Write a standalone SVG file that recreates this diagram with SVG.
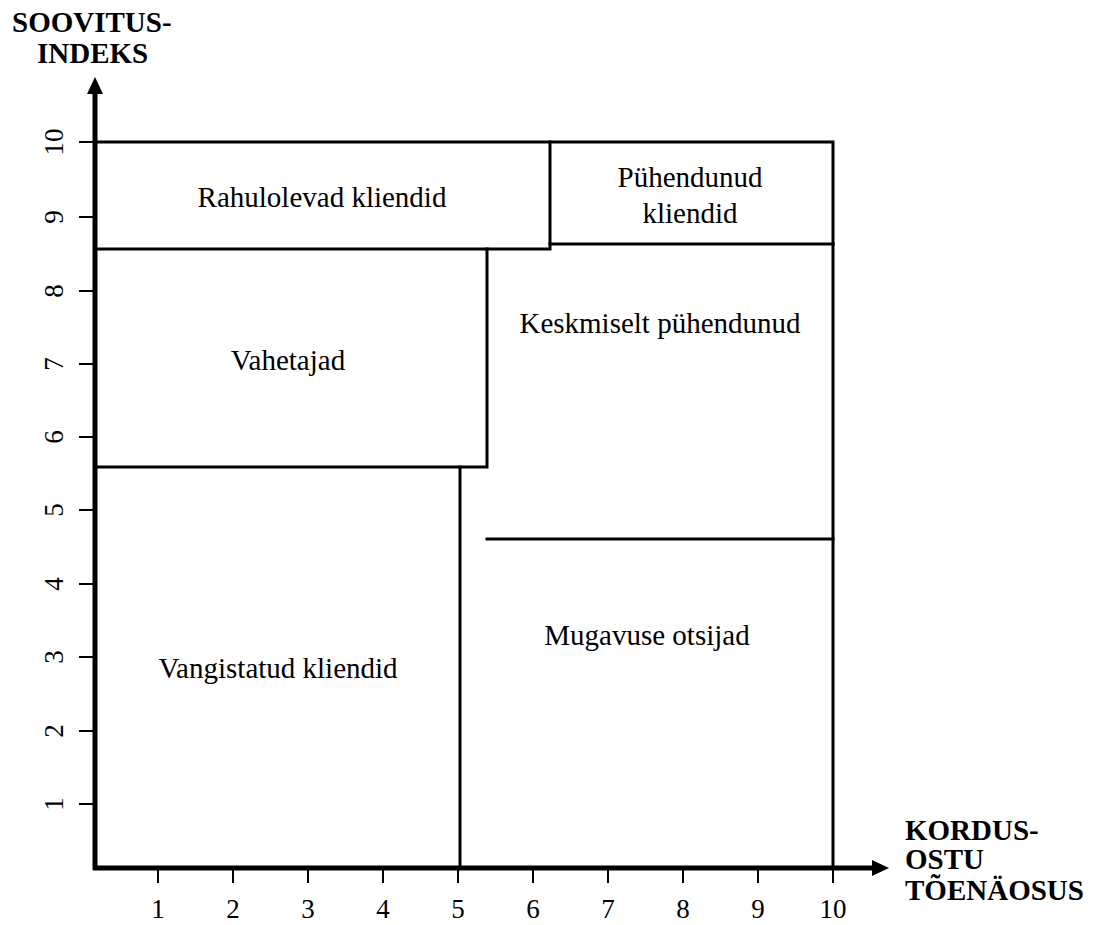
<svg xmlns="http://www.w3.org/2000/svg" width="1096" height="925" viewBox="0 0 1096 925">
  <style>
    .edge { fill: none; stroke: #000; stroke-width: 3; stroke-linecap: square; }
    .axis { stroke: #000; stroke-width: 5; fill: none; }
    .tick { stroke: #000; stroke-width: 2; }
    .lbl { font-family: "Liberation Serif", "Times New Roman", serif; font-size: 29px; fill: #000; text-anchor: middle; }
    .num { font-family: "Liberation Serif", "Times New Roman", serif; font-size: 27px; fill: #000; text-anchor: middle; }
    .head { font-family: "Liberation Serif", "Times New Roman", serif; font-size: 29px; font-weight: bold; fill: #000; }
  </style>
  <rect width="1096" height="925" fill="#fff"/>

  <!-- outer frame of the segment map -->
  <g id="frame">
    <path class="edge" d="M96,142 H833 V868"/>
  </g>

  <!-- segments -->
  <g id="rahulolevad">
    <path class="edge" d="M96,249 H550 V142"/>
    <text class="lbl" x="322" y="207">Rahulolevad kliendid</text>
  </g>
  <g id="puhendunud">
    <path class="edge" d="M550,244 H833"/>
    <text class="lbl" x="690" y="187">Pühendunud</text>
    <text class="lbl" x="690" y="223">kliendid</text>
  </g>
  <g id="vahetajad">
    <path class="edge" d="M96,467 H487 V249"/>
    <text class="lbl" x="288" y="370">Vahetajad</text>
  </g>
  <g id="keskmiselt">
    <path class="edge" d="M487,539 H833"/>
    <text class="lbl" x="660" y="333">Keskmiselt pühendunud</text>
  </g>
  <g id="vangistatud">
    <path class="edge" d="M460,467 V868"/>
    <text class="lbl" x="278" y="678">Vangistatud kliendid</text>
  </g>
  <g id="mugavuse">
    <text class="lbl" x="647" y="645">Mugavuse otsijad</text>
  </g>

  <!-- axes -->
  <g id="connectors">
    <line class="axis" x1="95" y1="870" x2="95" y2="90"/>
    <polygon points="95,77 87,94 103,94" fill="#000"/>
    <line class="axis" x1="93" y1="868" x2="874" y2="868"/>
    <polygon points="889,868 872,860 872,876" fill="#000"/>

    <!-- y ticks -->
    <g class="tick">
      <line x1="79" y1="804" x2="95" y2="804"/>
      <line x1="79" y1="731" x2="95" y2="731"/>
      <line x1="79" y1="657" x2="95" y2="657"/>
      <line x1="79" y1="584" x2="95" y2="584"/>
      <line x1="79" y1="510" x2="95" y2="510"/>
      <line x1="79" y1="437" x2="95" y2="437"/>
      <line x1="79" y1="364" x2="95" y2="364"/>
      <line x1="79" y1="291" x2="95" y2="291"/>
      <line x1="79" y1="217" x2="95" y2="217"/>
      <line x1="79" y1="142" x2="95" y2="142"/>
    </g>
    <!-- x ticks -->
    <g class="tick">
      <line x1="158" y1="868" x2="158" y2="883"/>
      <line x1="233" y1="868" x2="233" y2="883"/>
      <line x1="308" y1="868" x2="308" y2="883"/>
      <line x1="383" y1="868" x2="383" y2="883"/>
      <line x1="458" y1="868" x2="458" y2="883"/>
      <line x1="533" y1="868" x2="533" y2="883"/>
      <line x1="608" y1="868" x2="608" y2="883"/>
      <line x1="683" y1="868" x2="683" y2="883"/>
      <line x1="758" y1="868" x2="758" y2="883"/>
      <line x1="833" y1="868" x2="833" y2="883"/>
    </g>
  </g>

  <!-- y scale labels -->
  <g id="y-labels">
    <text class="num" transform="translate(63,804) rotate(-90)">1</text>
    <text class="num" transform="translate(63,731) rotate(-90)">2</text>
    <text class="num" transform="translate(63,657) rotate(-90)">3</text>
    <text class="num" transform="translate(63,584) rotate(-90)">4</text>
    <text class="num" transform="translate(63,510) rotate(-90)">5</text>
    <text class="num" transform="translate(63,437) rotate(-90)">6</text>
    <text class="num" transform="translate(63,364) rotate(-90)">7</text>
    <text class="num" transform="translate(63,291) rotate(-90)">8</text>
    <text class="num" transform="translate(63,217) rotate(-90)">9</text>
    <text class="num" transform="translate(63,142) rotate(-90)">10</text>
  </g>

  <!-- x scale labels -->
  <g id="x-labels">
    <text class="num" x="158" y="918">1</text>
    <text class="num" x="233" y="918">2</text>
    <text class="num" x="308" y="918">3</text>
    <text class="num" x="383" y="918">4</text>
    <text class="num" x="458" y="918">5</text>
    <text class="num" x="533" y="918">6</text>
    <text class="num" x="608" y="918">7</text>
    <text class="num" x="683" y="918">8</text>
    <text class="num" x="758" y="918">9</text>
    <text class="num" x="833" y="918">10</text>
  </g>

  <!-- axis titles -->
  <g id="y-title">
    <text class="head" x="12" y="32">SOOVITUS-</text>
    <text class="head" x="37" y="63">INDEKS</text>
  </g>
  <g id="x-title">
    <text class="head" x="905" y="840">KORDUS-</text>
    <text class="head" x="905" y="869">OSTU</text>
    <text class="head" x="905" y="900">TÕENÄOSUS</text>
  </g>
</svg>
